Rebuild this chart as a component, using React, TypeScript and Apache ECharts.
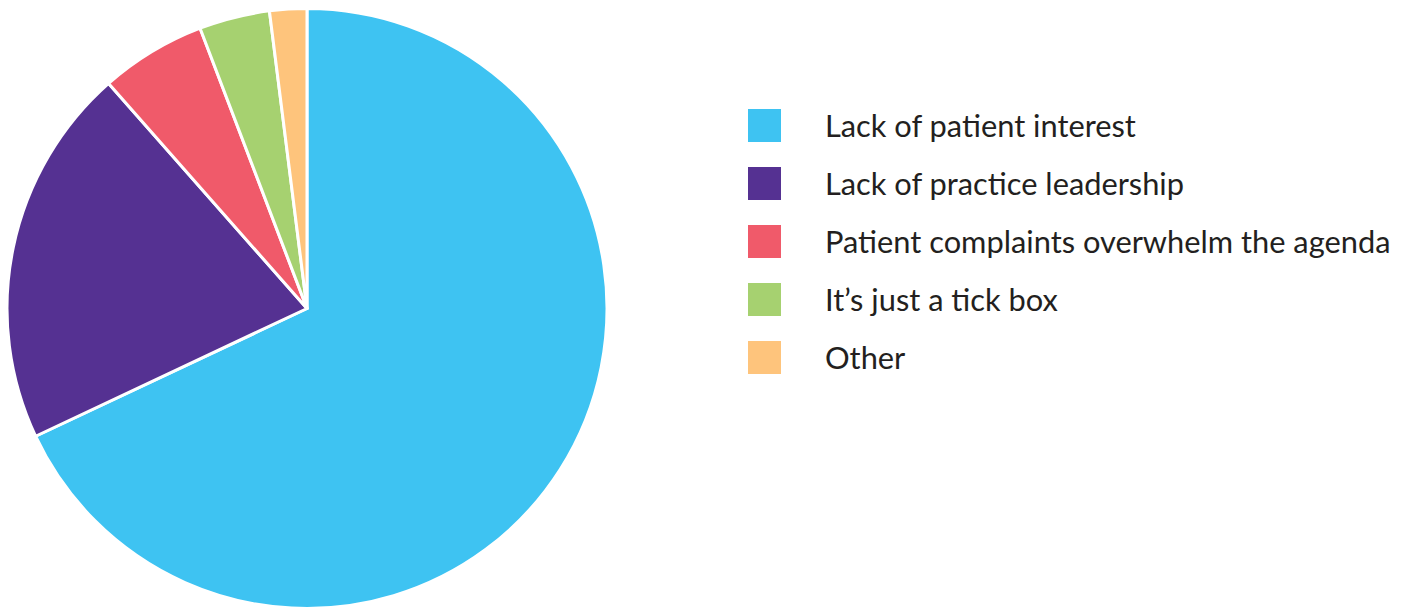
import React, { useEffect, useRef } from "react";
import * as echarts from "echarts";

const categories = [
  "Lack of patient interest",
  "Lack of practice leadership",
  "Patient complaints overwhelm the agenda",
  "It\u2019s just a tick box",
  "Other",
];
const values = [68, 20.5, 5.7, 3.8, 2.0];
const colors = ["#3EC3F2", "#553192", "#F05A6A", "#A6D170", "#FEC47C"];

export default function App() {
  const ref = useRef<HTMLDivElement>(null);
  useEffect(() => {
    document.body.style.margin = "0";
    const chart = echarts.init(ref.current!, null, { renderer: "svg" });
    chart.setOption({
      animation: false,
      color: colors,
      legend: {
        orient: "vertical",
        left: 748,
        top: 109,
        padding: 0,
        itemWidth: 33,
        itemHeight: 33,
        itemGap: 25,
        icon: "rect",
        itemStyle: { borderWidth: 0 },
        data: categories,
        textStyle: {
          fontFamily: "Lato",
          fontSize: 30.8,
          lineHeight: 33,
          color: "#231F20",
          padding: [0, 0, 0, 39],
        },
      },
      series: [
        {
          type: "pie",
          center: [307, 308.5],
          radius: 300,
          startAngle: 90,
          clockwise: true,
          label: { show: false },
          labelLine: { show: false },
          itemStyle: { borderColor: "#ffffff", borderWidth: 3 },
          emphasis: { disabled: true },
          data: categories.map((name, i) => ({ name, value: values[i] })),
        },
      ],
    });
    return () => chart.dispose();
  }, []);
  return <div ref={ref} style={{ width: 1410, height: 610 }} />;
}
